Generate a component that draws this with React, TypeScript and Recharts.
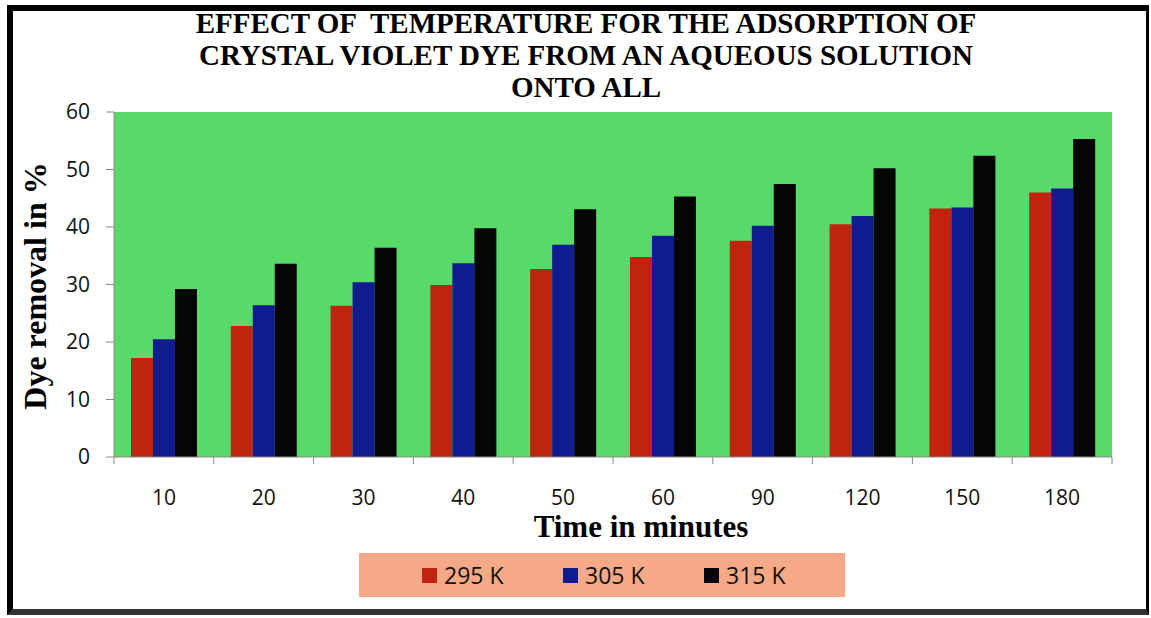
import { BarChart, Bar, XAxis, YAxis, CartesianGrid, Legend } from "recharts";

const times = ["10", "20", "30", "40", "50", "60", "90", "120", "150", "180"];
const removal295 = [17.2, 22.8, 26.3, 29.9, 32.7, 34.8, 37.6, 40.5, 43.2, 46.0];
const removal305 = [20.5, 26.4, 30.4, 33.7, 36.9, 38.5, 40.2, 41.9, 43.4, 46.7];
const removal315 = [29.2, 33.6, 36.4, 39.8, 43.1, 45.3, 47.5, 50.2, 52.4, 55.3];
const yTicks = [0, 10, 20, 30, 40, 50, 60];

const seriesNames = ["295 K", "305 K", "315 K"];
const COLORS = ["#c0230f", "#0f1b8e", "#050505"];

const data = times.map((t, i) => ({
  time: t,
  k295: removal295[i],
  k305: removal305[i],
  k315: removal315[i],
}));

const W = 1151;
const H = 618;
const PLOT_LEFT = 114;
const PLOT_RIGHT = 1112;
const PLOT_TOP = 112;
const PLOT_BOTTOM = 457;
const X_AXIS_H = 40;
const BAND = (PLOT_RIGHT - PLOT_LEFT) / times.length;

const SERIF = '"Liberation Serif", "Times New Roman", serif';
const SANS = '"Open Sans", "Liberation Sans", sans-serif';

// x ticks sit between categories, label in the middle
function TimeTick(props: any) {
  const { x, y, payload, index } = props;
  const isLast = index === times.length - 1;
  return (
    <g>
      <line x1={x - BAND / 2} x2={x - BAND / 2} y1={y} y2={y + 7} stroke="#8a8a8a" />
      {isLast && (
        <line x1={x + BAND / 2} x2={x + BAND / 2} y1={y} y2={y + 7} stroke="#8a8a8a" />
      )}
      <text
        x={x}
        y={y + 40}
        textAnchor="middle"
        dominantBaseline="central"
        fontFamily={SANS}
        fontSize={21}
        fill="#111"
      >
        {payload.value}
      </text>
    </g>
  );
}

function renderLegend(props: any) {
  const { payload } = props;
  return (
    <div
      style={{
        display: "flex",
        alignItems: "center",
        height: "100%",
        paddingLeft: 63,
        boxSizing: "border-box",
        background: "#f5a986",
        fontFamily: SANS,
        fontSize: 23,
        color: "#111",
      }}
    >
      {payload.map((entry: any, index: number) => (
        <div
          key={`legend-${index}`}
          style={{ display: "flex", alignItems: "center", width: 144 }}
        >
          <span
            style={{
              display: "inline-block",
              width: 15,
              height: 15,
              background: entry.color,
              marginRight: 7,
            }}
          ></span>
          {entry.value}
        </div>
      ))}
    </div>
  );
}

export default function App() {
  return (
    <div
      style={{
        position: "absolute",
        left: 0,
        top: 0,
        width: W,
        height: H,
        background: "#fff",
        overflow: "hidden",
      }}
    >
      {/* outer frame */}
      <div
        style={{
          position: "absolute",
          left: 7,
          top: 5,
          width: 1149 - 7,
          height: 615 - 5,
          boxSizing: "border-box",
          borderTop: "6px solid #000",
          borderLeft: "6px solid #000",
          borderRight: "3px solid #000",
          borderBottom: "6px solid #333",
        }}
      />

      <BarChart
        width={W}
        height={H}
        data={data}
        margin={{
          top: PLOT_TOP,
          right: W - PLOT_RIGHT,
          bottom: H - PLOT_BOTTOM - X_AXIS_H,
          left: 0,
        }}
        barCategoryGap="17%"
        barGap={0}
      >
        <CartesianGrid horizontal={false} vertical={false} fill="#5ad96b" />
        <XAxis
          dataKey="time"
          tickLine={false}
          tickSize={0}
          tickMargin={0}
          height={X_AXIS_H}
          stroke="#8a8a8a"
          tick={<TimeTick />}
          interval={0}
        />
        <YAxis
          width={PLOT_LEFT}
          domain={[0, 60]}
          ticks={yTicks}
          tickSize={8}
          tickMargin={16}
          stroke="#8a8a8a"
          tick={{ fontFamily: SANS, fontSize: 21, fill: "#111" }}
        />
        <Legend
          verticalAlign="middle"
          align="center"
          content={renderLegend}
          wrapperStyle={{ left: 359, top: 553, width: 486, height: 44 }}
        />
        <Bar dataKey="k295" name={seriesNames[0]} fill={COLORS[0]} isAnimationActive={false} />
        <Bar dataKey="k305" name={seriesNames[1]} fill={COLORS[1]} isAnimationActive={false} />
        <Bar dataKey="k315" name={seriesNames[2]} fill={COLORS[2]} isAnimationActive={false} />
      </BarChart>

      {/* chart title */}
      <div
        style={{
          position: "absolute",
          left: 186,
          top: 7,
          width: 800,
          textAlign: "center",
          fontFamily: SERIF,
          fontWeight: "bold",
          fontSize: 29,
          lineHeight: "32px",
          color: "#000",
        }}
      >
        <div style={{ whiteSpace: "pre" }}>EFFECT OF  TEMPERATURE FOR THE ADSORPTION OF</div>
        <div>CRYSTAL VIOLET DYE FROM AN AQUEOUS SOLUTION</div>
        <div>ONTO ALL</div>
      </div>

      {/* x axis title */}
      <div
        style={{
          position: "absolute",
          left: 441,
          top: 515,
          width: 400,
          textAlign: "center",
          fontFamily: SERIF,
          fontWeight: "bold",
          fontSize: 31,
          lineHeight: "24px",
          color: "#000",
        }}
      >
        Time in minutes
      </div>

      {/* y axis title */}
      <div
        style={{
          position: "absolute",
          left: 34.5 - 200,
          top: 286 - 18,
          width: 400,
          height: 36,
          textAlign: "center",
          fontFamily: SERIF,
          fontWeight: "bold",
          fontSize: 32,
          lineHeight: "36px",
          color: "#000",
          transform: "rotate(-90deg)",
        }}
      >
        Dye removal in %
      </div>
    </div>
  );
}
